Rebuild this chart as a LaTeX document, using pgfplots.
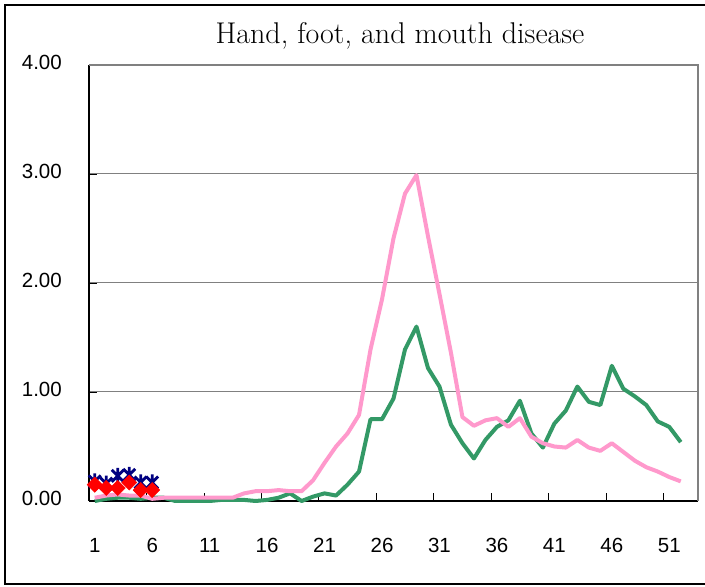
\documentclass[border=0pt]{standalone}
\usepackage{fontspec}
\usepackage{pgfplots}
\pgfplotsset{compat=1.18}
\newfontfamily\tickfont{Liberation Sans}
\definecolor{pinkc}{HTML}{FF99CC}
\definecolor{greenc}{HTML}{339966}
\definecolor{navyc}{HTML}{000080}
\definecolor{gridc}{HTML}{808080}
\pgfdeclareplotmark{xstar}{%
 \pgfpathmoveto{\pgfqpoint{-.75\pgfplotmarksize}{-.75\pgfplotmarksize}}%
 \pgfpathlineto{\pgfqpoint{.75\pgfplotmarksize}{.75\pgfplotmarksize}}%
 \pgfpathmoveto{\pgfqpoint{-.75\pgfplotmarksize}{.75\pgfplotmarksize}}%
 \pgfpathlineto{\pgfqpoint{.75\pgfplotmarksize}{-.75\pgfplotmarksize}}%
 \pgfpathmoveto{\pgfqpoint{0pt}{-\pgfplotmarksize}}%
 \pgfpathlineto{\pgfqpoint{0pt}{\pgfplotmarksize}}%
 \pgfusepathqstroke}
\begin{document}
\begin{tikzpicture}
\useasboundingbox (0pt,0pt) rectangle (705pt,587pt);
\fill[white] (0pt,0pt) rectangle (705pt,587pt);
\draw[line width=1.5pt] (720pt,582pt) -- (5pt,582pt) -- (5pt,3pt) -- (720pt,3pt);
\node[font=\fontsize{30}{34}\selectfont] at (400pt,551pt) {Hand, foot, and mouth disease};
\begin{axis}[
  at={(89pt,86pt)}, anchor=south west, scale only axis,
  width=609pt, height=436pt,
  xmin=0.5, xmax=53.5, ymin=0, ymax=4,
  axis x line*=bottom, axis y line*=left,
  axis line style={black, line width=1.2pt},
  clip=false,
  tick align=inside, major tick length=8pt,
  tick style={black, line width=0.8pt},
  xtick={0.5,5.5,...,50.5},
  xticklabels={1,6,11,16,21,26,31,36,41,46,51},
  ytick={0,1,2,3,4},
  yticklabels={0.00,1.00,2.00,3.00,4.00},
  /pgf/number format/assume math mode=true,
  ticklabel style={font=\tickfont\fontsize{20.5}{24}\selectfont, inner sep=0pt},
  xticklabel style={anchor=north, xshift=5.75pt, yshift=-37pt},
  yticklabel style={anchor=east, xshift=-27pt, yshift=3pt},
  ymajorgrids, major grid style={gridc, line width=1pt},
]
\draw[gridc, line width=1.2pt] (rel axis cs:0,1) -- (rel axis cs:1,1) -- (rel axis cs:1,0);
\addplot[greenc, line width=4pt, mark=none, line join=round] coordinates {
(1,0.00) (2,0.02) (3,0.03) (4,0.03) (5,0.02) (6,0.03) (7,0.03) (8,0.00) (9,0.00) (10,0.00)
(11,0.00) (12,0.01) (13,0.01) (14,0.01) (15,0.00) (16,0.01) (17,0.03) (18,0.07) (19,0.00) (20,0.04)
(21,0.07) (22,0.05) (23,0.15) (24,0.27) (25,0.75) (26,0.75) (27,0.94) (28,1.39) (29,1.60) (30,1.22)
(31,1.05) (32,0.70) (33,0.53) (34,0.39) (35,0.56) (36,0.68) (37,0.74) (38,0.92) (39,0.62) (40,0.49)
(41,0.71) (42,0.83) (43,1.05) (44,0.91) (45,0.88) (46,1.24) (47,1.03) (48,0.96) (49,0.88) (50,0.73)
(51,0.68) (52,0.54)
};
\addplot[pinkc, line width=4pt, mark=none, line join=round] coordinates {
(1,0.03) (2,0.05) (3,0.06) (4,0.05) (5,0.05) (6,0.02) (7,0.03) (8,0.03) (9,0.03) (10,0.03)
(11,0.03) (12,0.03) (13,0.03) (14,0.07) (15,0.09) (16,0.09) (17,0.10) (18,0.09) (19,0.09) (20,0.19)
(21,0.35) (22,0.50) (23,0.62) (24,0.79) (25,1.39) (26,1.85) (27,2.41) (28,2.82) (29,2.99) (30,2.43)
(31,1.90) (32,1.36) (33,0.77) (34,0.69) (35,0.74) (36,0.76) (37,0.68) (38,0.76) (39,0.59) (40,0.53)
(41,0.50) (42,0.49) (43,0.56) (44,0.49) (45,0.46) (46,0.53) (47,0.45) (48,0.37) (49,0.31) (50,0.27)
(51,0.22) (52,0.18)
};
\addplot[only marks, mark=xstar, mark size=8pt, mark options={navyc, line width=2.8pt}] coordinates {
(1,0.18) (2,0.16) (3,0.23) (4,0.24) (5,0.17) (6,0.17)
};
\addplot[only marks, mark=square*, mark size=5.4pt, mark options={red, fill=red, rotate=45}] coordinates {
(1,0.15) (2,0.12) (3,0.12) (4,0.17) (5,0.10) (6,0.10)
};
\end{axis}
\end{tikzpicture}
\end{document}
